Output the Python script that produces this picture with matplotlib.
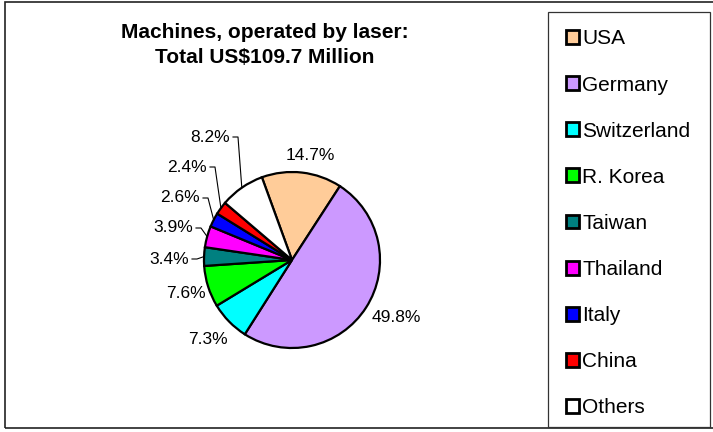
import matplotlib.pyplot as plt
import numpy as np
from matplotlib.patches import Rectangle

plt.rcParams['font.family'] = ['Liberation Sans', 'DejaVu Sans']

countries = ['USA', 'Germany', 'Switzerland', 'R. Korea', 'Taiwan',
             'Thailand', 'Italy', 'China', 'Others']
shares = [14.7, 49.8, 7.3, 7.6, 3.4, 3.9, 2.6, 2.4, 8.2]
colors = ['#FFCC99', '#CC99FF', '#00FFFF', '#00FF00', '#008080',
          '#FF00FF', '#0000FF', '#FF0000', '#FFFFFF']
title = 'Machines, operated by laser:\nTotal US$109.7 Million'

# label anchors in pixels from the top-left corner: (x, y, ha, leader line?)
label_pos = [(310, 156, 'center', False),
             (396, 318, 'center', False),
             (208, 340, 'center', False),
             (186, 294, 'center', False),
             (189, 259, 'right', True),
             (193, 228, 'right', True),
             (200, 198, 'right', True),
             (207, 167, 'right', True),
             (230, 137, 'right', True)]

W, H = 713, 432
fig = plt.figure(figsize=(W / 100, H / 100), dpi=100)
ax = fig.add_axes([0, 0, 1, 1])

cx, cy, r = 292, H - 260, 88
wedges, _ = ax.pie(shares, colors=colors, startangle=110, counterclock=False,
                   center=(cx, cy), radius=r,
                   wedgeprops=dict(edgecolor='black', linewidth=1.6))
ax.set_xlim(0, W)
ax.set_ylim(0, H)
ax.axis('off')

for w, v, (px, py, ha, lead) in zip(wedges, shares, label_pos):
    y = H - py
    ax.text(px, y, f'{v:.1f}%', ha=ha, va='center', fontsize=12.5)
    if lead:
        mid = np.deg2rad((w.theta1 + w.theta2) / 2)
        ex, ey = cx + r * np.cos(mid), cy + r * np.sin(mid)
        ax.plot([px + 3, px + 8, ex], [y, y, ey], color='black', lw=0.8)

ax.text(265, H - 45, title, ha='center', va='center', fontsize=15,
        fontweight='bold', linespacing=1.45)

# outer chart border and legend box
ax.add_patch(Rectangle((5, 4.5), 720, 426, fill=False, ec='#222222',
                       lw=1.2, clip_on=False))
ax.add_patch(Rectangle((548, H - 427), 162, 415, fill=False, ec='#333333',
                       lw=0.9))

leg = fig.legend(wedges, countries, loc='upper left',
                 bbox_to_anchor=(548 / W, 1 - 12 / H, 162 / W, 0.0),
                 mode='expand', fontsize=15, frameon=False, borderaxespad=0,
                 handlelength=0.65, handleheight=0.65, handletextpad=0.15,
                 labelspacing=1.3, borderpad=0.84)
for h in leg.legend_handles:
    h.set_linewidth(2.0)

fig.savefig('out.png', dpi=100)
